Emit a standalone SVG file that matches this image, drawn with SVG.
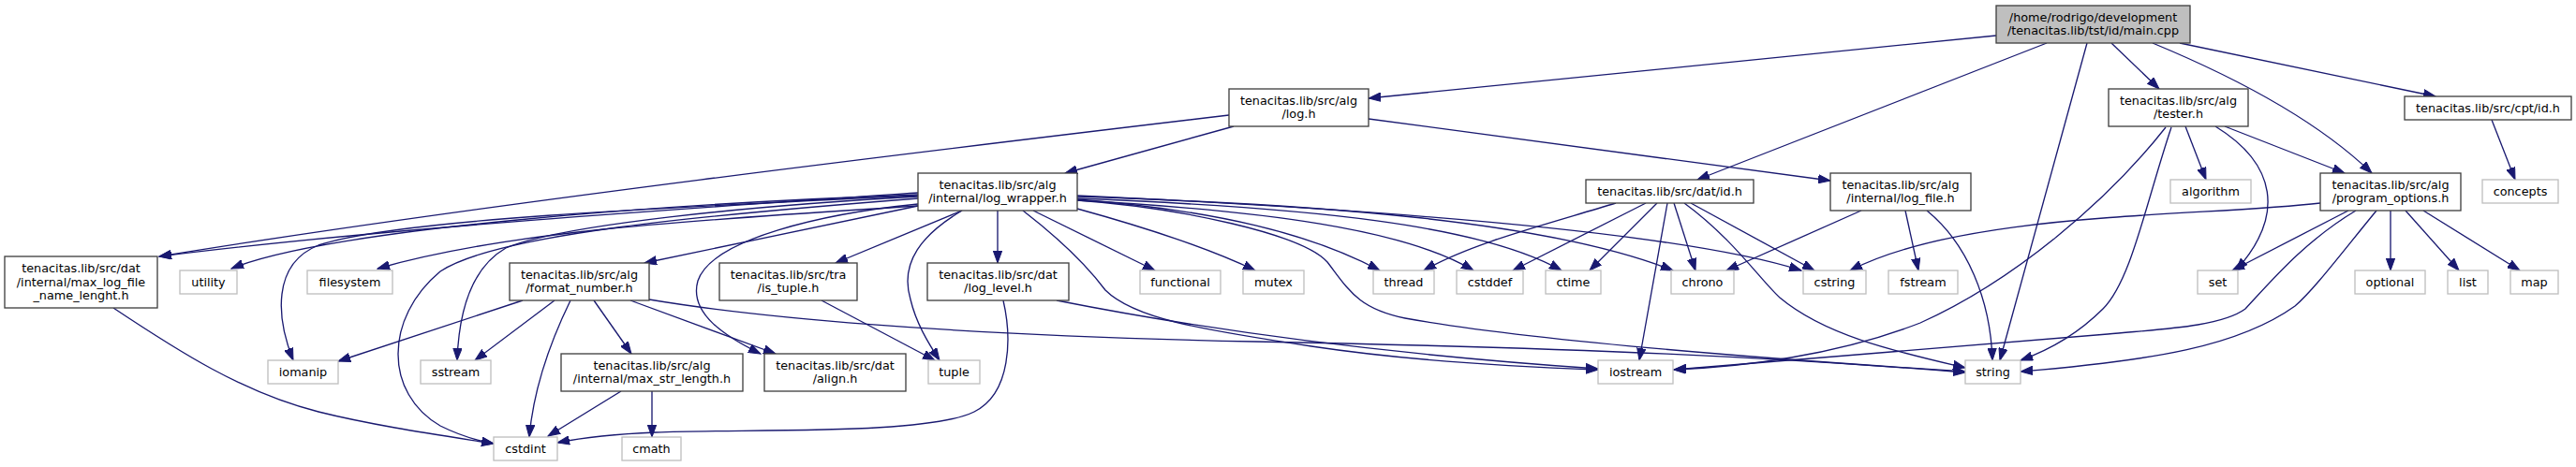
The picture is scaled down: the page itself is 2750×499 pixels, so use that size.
<svg xmlns="http://www.w3.org/2000/svg" width="2750" height="499" viewBox="0 0 2750 499">
<style>
rect{stroke-width:1.33}
.n rect{fill:#fff;stroke:#404040}
.m rect{fill:#bfbfbf;stroke:#404040}
.s rect{fill:#fff;stroke:#bfbfbf}
text{font-family:"DejaVu Sans","Liberation Sans",sans-serif;font-size:12.8px;text-anchor:middle;fill:#000}
#edges path{fill:none;stroke:#191970;stroke-width:1.33;marker-end:url(#a)}
</style>
<defs>
<marker id="a" markerUnits="userSpaceOnUse" markerWidth="14" markerHeight="10" refX="13" refY="5" orient="auto"><path d="M0,0.3 L13,5 L0,9.7 Z" fill="#191970" stroke="#191970" stroke-width="1"/></marker>
</defs>
<rect width="2750" height="499" fill="#fff"/>
<g id="edges">
<path d="M2131,38 L1461,105"/>
<path d="M2185,46 L1812,192"/>
<path d="M2228,46 L2135,385"/>
<path d="M2254,46 L2305,95"/>
<path d="M2298,46 C2380,80 2470,125 2532,185"/>
<path d="M2327,46 L2600,103"/>
<path d="M1317,135 L1137,185"/>
<path d="M1461,127 L1954,193"/>
<path d="M1312,123 C1000,160 500,220 170,274"/>
<path d="M2660,128 L2685,192"/>
<path d="M2333,135 L2355,192"/>
<path d="M2375,135 L2503,185"/>
<path d="M2365,135 C2430,175 2440,230 2387,289"/>
<path d="M2312,136 C2250,215 2150,300 2050,345 C1960,380 1860,392 1787,395"/>
<path d="M2318,136 C2290,220 2275,300 2245,330 C2215,360 2185,375 2157,385"/>
<path d="M2477,217 C2350,232 2100,225 1975,289"/>
<path d="M2507,225 L2383,289"/>
<path d="M2552,225 L2552,289"/>
<path d="M2568,225 L2625,289"/>
<path d="M2587,225 L2690,289"/>
<path d="M2515,225 C2460,258 2425,300 2397,330 C2370,350 2300,352 2250,357 L1787,395"/>
<path d="M2537,225 C2500,270 2470,310 2450,327 C2390,370 2300,385 2157,397"/>
<path d="M1987,225 L1843,289"/>
<path d="M2034,225 L2048,289"/>
<path d="M2057,225 C2100,260 2125,320 2127,385"/>
<path d="M1725,217 C1650,240 1570,260 1520,289"/>
<path d="M1757,217 L1615,289"/>
<path d="M1769,217 L1697,289"/>
<path d="M1780,217 L1750,385"/>
<path d="M1787,217 L1810,289"/>
<path d="M1805,217 L1937,289"/>
<path d="M1798,217 C1850,255 1880,300 1900,318 C1950,360 2030,377 2098,393"/>
<path d="M980,206 C700,225 400,245 170,274"/>
<path d="M980,208 C700,218 350,245 247,287"/>
<path d="M980,220 C750,235 550,245 403,287"/>
<path d="M980,209 C700,222 420,235 340,262 C290,282 295,340 313,385"/>
<path d="M980,210 C800,220 600,240 540,265 C505,285 490,330 488,385"/>
<path d="M980,212 C750,230 530,250 470,290 C410,340 410,420 470,455 C490,465 505,470 527,474"/>
<path d="M980,220 L688,281"/>
<path d="M1027,225 L892,281"/>
<path d="M1027,225 C985,250 960,280 972,320 C978,345 990,365 1003,385"/>
<path d="M980,218 C880,228 760,255 745,300 C735,335 775,360 812,378"/>
<path d="M1065,225 L1065,281"/>
<path d="M1103,225 L1233,289"/>
<path d="M1150,223 C1230,245 1290,265 1340,289"/>
<path d="M1150,213 C1300,225 1400,250 1473,289"/>
<path d="M1150,214 C1350,225 1500,245 1573,289"/>
<path d="M1150,212 C1400,222 1580,240 1667,289"/>
<path d="M1150,210 C1400,218 1650,235 1786,289"/>
<path d="M1150,209 C1500,225 1800,250 1923,289"/>
<path d="M1150,214 C1260,222 1390,250 1417,280 C1440,310 1450,330 1500,340 C1600,358 1800,378 2098,397"/>
<path d="M1092,225 C1140,262 1165,290 1180,310 C1210,340 1280,352 1400,370 C1500,385 1620,392 1706,395"/>
<path d="M1128,321 C1300,355 1500,380 1706,394"/>
<path d="M1071,321 C1080,360 1080,420 1040,440 C990,465 800,458 700,462 C650,464 620,468 595,473"/>
<path d="M558,321 L361,386"/>
<path d="M592,321 L507,385"/>
<path d="M609,321 C590,360 570,410 565,467"/>
<path d="M634,321 L674,378"/>
<path d="M673,321 L828,378"/>
<path d="M693,320 C800,338 1000,358 1340,365 C1700,372 1900,382 2098,398"/>
<path d="M663,418 L585,466"/>
<path d="M696,418 L696,467"/>
<path d="M121,329 C190,375 260,420 340,440 C400,455 470,465 527,474"/>
<path d="M877,321 L998,385"/>
</g>
<g id="main" class="m"><rect x="2131" y="6" width="207" height="40"/><text x="2234.5" y="22.5">/home/rodrigo/development</text><text x="2234.5" y="36.8">/tenacitas.lib/tst/id/main.cpp</text></g>
<g id="logh" class="n"><rect x="1312" y="95" width="149" height="40"/><text x="1386.5" y="111.5">tenacitas.lib/src/alg</text><text x="1386.5" y="125.8">/log.h</text></g>
<g id="tester" class="n"><rect x="2251" y="95" width="149" height="40"/><text x="2325.5" y="111.5">tenacitas.lib/src/alg</text><text x="2325.5" y="125.8">/tester.h</text></g>
<g id="cptid" class="n"><rect x="2567" y="103" width="178" height="25"/><text x="2656" y="119.5">tenacitas.lib/src/cpt/id.h</text></g>
<g id="logwrapper" class="n"><rect x="980" y="185" width="170" height="40"/><text x="1065" y="201.5">tenacitas.lib/src/alg</text><text x="1065" y="215.8">/internal/log_wrapper.h</text></g>
<g id="datid" class="n"><rect x="1693" y="192" width="179" height="25"/><text x="1782.5" y="208.5">tenacitas.lib/src/dat/id.h</text></g>
<g id="logfile" class="n"><rect x="1954" y="185" width="150" height="40"/><text x="2029" y="201.5">tenacitas.lib/src/alg</text><text x="2029" y="215.8">/internal/log_file.h</text></g>
<g id="algorithm" class="s"><rect x="2317" y="192" width="86" height="25"/><text x="2360" y="208.5">algorithm</text></g>
<g id="progopts" class="n"><rect x="2477" y="185" width="150" height="40"/><text x="2552" y="201.5">tenacitas.lib/src/alg</text><text x="2552" y="215.8">/program_options.h</text></g>
<g id="concepts" class="s"><rect x="2650" y="192" width="81" height="25"/><text x="2690.5" y="208.5">concepts</text></g>
<g id="maxlog" class="n"><rect x="5" y="274" width="163" height="55"/><text x="86.5" y="291.2">tenacitas.lib/src/dat</text><text x="86.5" y="305.5">/internal/max_log_file</text><text x="86.5" y="319.8">_name_lenght.h</text></g>
<g id="utility" class="s"><rect x="192" y="289" width="61" height="25"/><text x="222.5" y="305.5">utility</text></g>
<g id="filesystem" class="s"><rect x="328" y="289" width="91" height="25"/><text x="373.5" y="305.5">filesystem</text></g>
<g id="formatnumber" class="n"><rect x="544" y="281" width="149" height="40"/><text x="618.5" y="297.5">tenacitas.lib/src/alg</text><text x="618.5" y="311.8">/format_number.h</text></g>
<g id="istuple" class="n"><rect x="768" y="281" width="147" height="40"/><text x="841.5" y="297.5">tenacitas.lib/src/tra</text><text x="841.5" y="311.8">/is_tuple.h</text></g>
<g id="loglevel" class="n"><rect x="990" y="281" width="151" height="40"/><text x="1065.5" y="297.5">tenacitas.lib/src/dat</text><text x="1065.5" y="311.8">/log_level.h</text></g>
<g id="functional" class="s"><rect x="1217" y="289" width="86" height="25"/><text x="1260" y="305.5">functional</text></g>
<g id="mutex" class="s"><rect x="1327" y="289" width="65" height="25"/><text x="1359.5" y="305.5">mutex</text></g>
<g id="thread" class="s"><rect x="1466" y="289" width="65" height="25"/><text x="1498.5" y="305.5">thread</text></g>
<g id="cstddef" class="s"><rect x="1555" y="289" width="71" height="25"/><text x="1590.5" y="305.5">cstddef</text></g>
<g id="ctime" class="s"><rect x="1650" y="289" width="59" height="25"/><text x="1679.5" y="305.5">ctime</text></g>
<g id="chrono" class="s"><rect x="1784" y="289" width="67" height="25"/><text x="1817.5" y="305.5">chrono</text></g>
<g id="cstring" class="s"><rect x="1925" y="289" width="67" height="25"/><text x="1958.5" y="305.5">cstring</text></g>
<g id="fstream" class="s"><rect x="2016" y="289" width="74" height="25"/><text x="2053" y="305.5">fstream</text></g>
<g id="set" class="s"><rect x="2346" y="289" width="43" height="25"/><text x="2367.5" y="305.5">set</text></g>
<g id="optional" class="s"><rect x="2514" y="289" width="75" height="25"/><text x="2551.5" y="305.5">optional</text></g>
<g id="list" class="s"><rect x="2613" y="289" width="43" height="25"/><text x="2634.5" y="305.5">list</text></g>
<g id="map" class="s"><rect x="2680" y="289" width="51" height="25"/><text x="2705.5" y="305.5">map</text></g>
<g id="iomanip" class="s"><rect x="286" y="385" width="75" height="25"/><text x="323.5" y="401.5">iomanip</text></g>
<g id="sstream" class="s"><rect x="449" y="385" width="75" height="25"/><text x="486.5" y="401.5">sstream</text></g>
<g id="maxstrlength" class="n"><rect x="599" y="378" width="194" height="40"/><text x="696" y="394.5">tenacitas.lib/src/alg</text><text x="696" y="408.8">/internal/max_str_length.h</text></g>
<g id="align" class="n"><rect x="816" y="378" width="151" height="40"/><text x="891.5" y="394.5">tenacitas.lib/src/dat</text><text x="891.5" y="408.8">/align.h</text></g>
<g id="tuple" class="s"><rect x="991" y="385" width="55" height="25"/><text x="1018.5" y="401.5">tuple</text></g>
<g id="iostream" class="s"><rect x="1706" y="385" width="80" height="25"/><text x="1746" y="401.5">iostream</text></g>
<g id="string" class="s"><rect x="2098" y="385" width="59" height="25"/><text x="2127.5" y="401.5">string</text></g>
<g id="cstdint" class="s"><rect x="527" y="467" width="68" height="25"/><text x="561" y="483.5">cstdint</text></g>
<g id="cmath" class="s"><rect x="664" y="467" width="63" height="25"/><text x="695.5" y="483.5">cmath</text></g>
</svg>
